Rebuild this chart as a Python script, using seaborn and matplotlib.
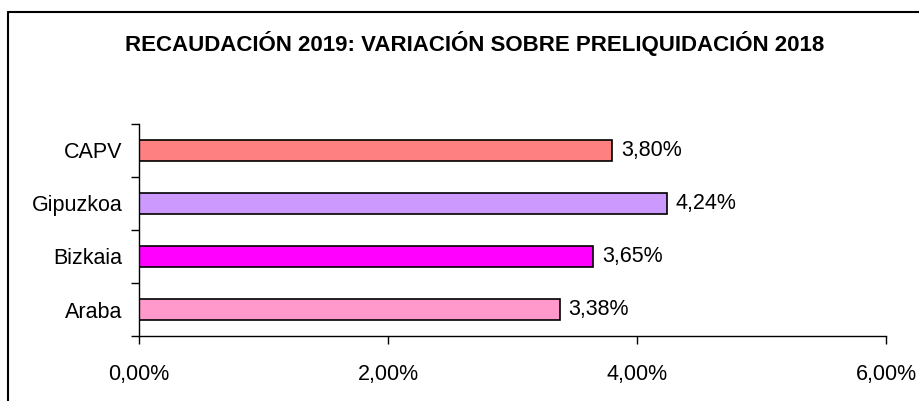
import seaborn as sns
import matplotlib.pyplot as plt
import pandas as pd
from matplotlib.ticker import FuncFormatter, FixedLocator
from matplotlib.lines import Line2D

territorios = ["CAPV", "Gipuzkoa", "Bizkaia", "Araba"]
variacion = [3.80, 4.24, 3.65, 3.38]
colores = ["#FF8080", "#CC99FF", "#FF00FF", "#FF99CC"]
titulo = "RECAUDACIÓN 2019: VARIACIÓN SOBRE PRELIQUIDACIÓN 2018"

df = pd.DataFrame({"Territorio": territorios, "Variacion": variacion})

sns.set_theme(style="white")
plt.rcParams["font.family"] = ["Liberation Sans", "DejaVu Sans"]
plt.rcParams["text.color"] = "black"
plt.rcParams["xtick.color"] = "black"
plt.rcParams["ytick.color"] = "black"

fig = plt.figure(figsize=(9.2, 4.01), dpi=100)
ax = fig.add_axes([139 / 920, 65 / 401, 747 / 920, 212 / 401])

sns.barplot(
    data=df, x="Variacion", y="Territorio", hue="Territorio",
    palette=colores, legend=False, orient="h", width=0.4, saturation=1,
    edgecolor="black", linewidth=1.2, ax=ax
)

for i, v in enumerate(variacion):
    ax.text(v + 0.07, i, f"{v:.2f}%".replace(".", ","), va="center",
            ha="left", fontsize=15.5, color="black")

ax.set_xlim(0, 6)
ax.set_ylim(3.5, -0.5)
ax.set_xticks([0, 2, 4, 6])
ax.xaxis.set_major_formatter(FuncFormatter(lambda x, p: f"{x:.2f}%".replace(".", ",")))
ax.yaxis.set_major_locator(FixedLocator(range(4)))
ax.yaxis.set_minor_locator(FixedLocator([-0.5, 0.5, 1.5, 2.5, 3.5]))
ax.tick_params(axis="y", which="major", length=0, pad=12, labelsize=15.5)
ax.tick_params(axis="y", which="minor", length=6, width=1, color="black", left=True)
ax.tick_params(axis="x", length=6, width=1, color="black", bottom=True, pad=14, labelsize=15.5)
ax.set_xlabel("")
ax.set_ylabel("")
for s in ["top", "right"]:
    ax.spines[s].set_visible(False)
for s in ["left", "bottom"]:
    ax.spines[s].set_color("black")
    ax.spines[s].set_linewidth(1)

fig.text(475 / 920, 1 - 43 / 401, titulo, ha="center", va="center",
         fontsize=16, fontweight="bold")

fig.add_artist(Line2D([8 / 920, 8 / 920], [0, 1 - 12 / 401], color="black", lw=1.5, transform=fig.transFigure))
fig.add_artist(Line2D([8 / 920, 1], [1 - 12 / 401, 1 - 12 / 401], color="black", lw=1.5, transform=fig.transFigure))

fig.savefig("out.png", dpi=100)
